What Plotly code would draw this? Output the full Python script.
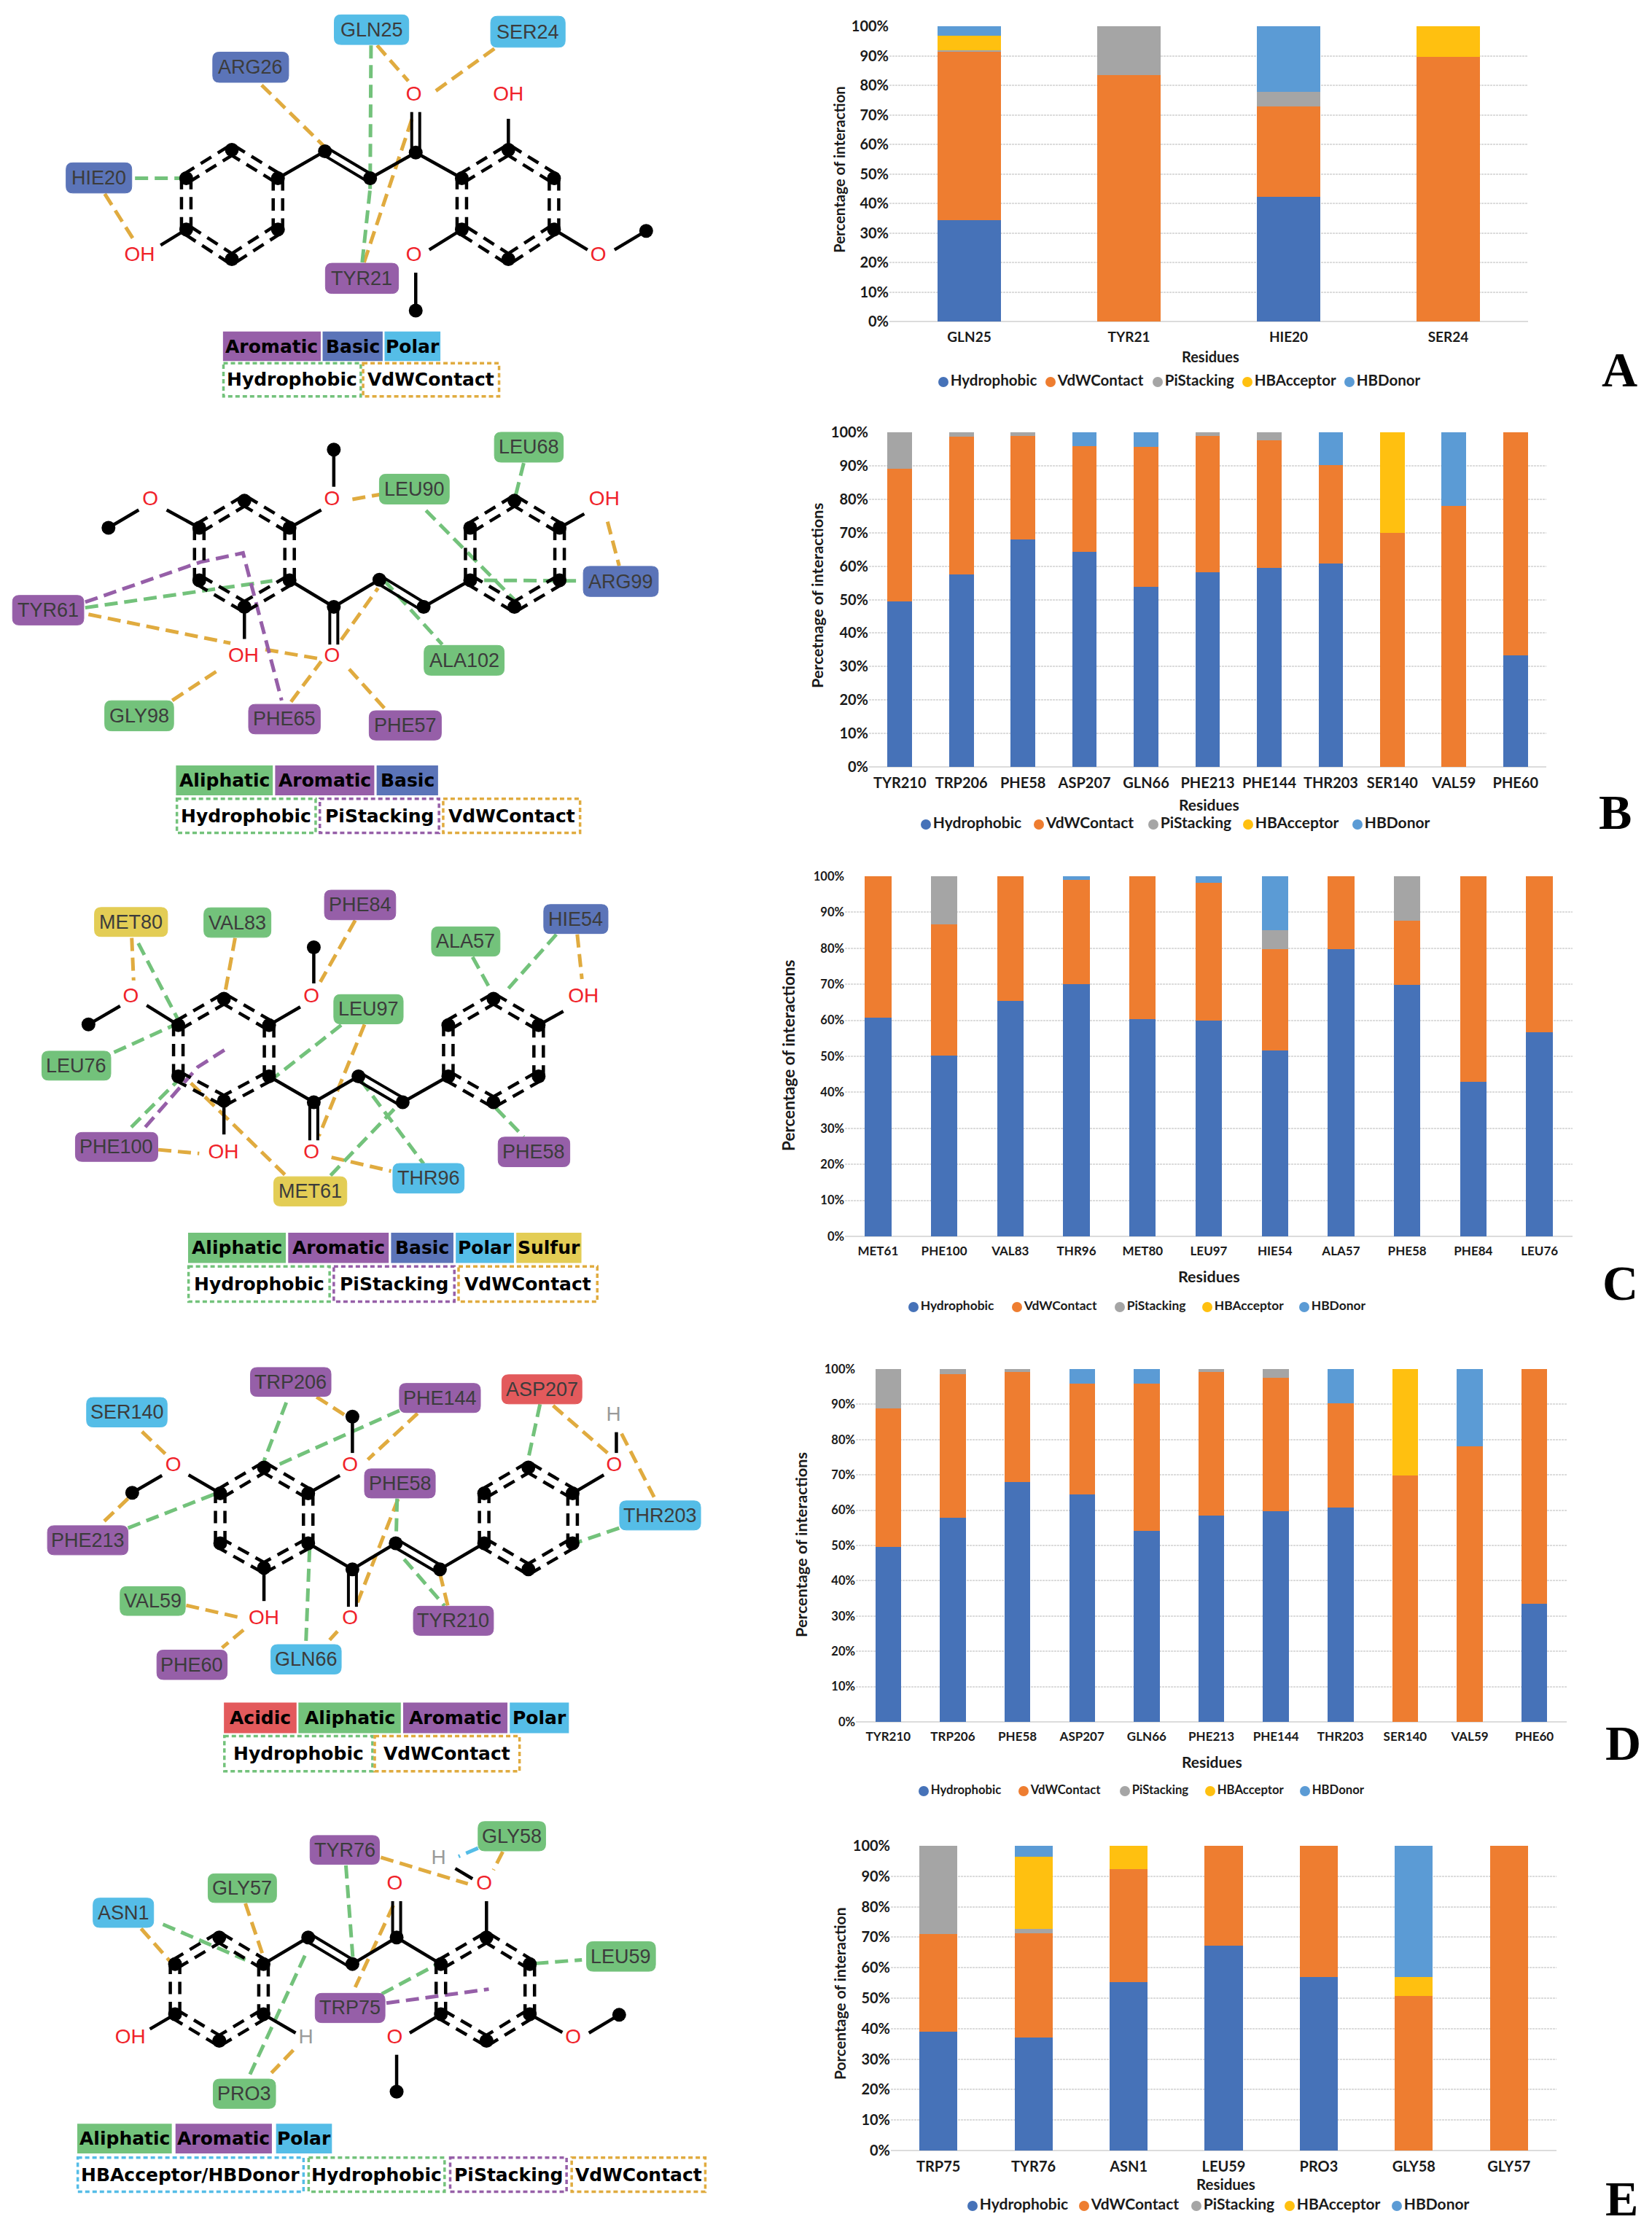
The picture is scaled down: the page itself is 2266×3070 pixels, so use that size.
import plotly.graph_objects as go

W, H = 2266, 3070
SERIES = ["Hydrophobic", "VdWContact", "PiStacking", "HBAcceptor", "HBDonor"]
SERIES_COLORS = ["#4672B8", "#EE7D30", "#A5A5A5", "#FFC010", "#5B9BD5"]

# ---------- bar chart values (percent) ----------
A_residues = ["GLN25", "TYR21", "HIE20", "SER24"]
A_hydrophobic = [34.2, 0, 42.3, 0]
A_vdw = [57.3, 83.4, 30.5, 89.6]
A_pi = [0.3, 16.6, 5.0, 0]
A_acceptor = [4.9, 0, 0, 10.4]
A_donor = [3.3, 0, 22.2, 0]

B_residues = ["TYR210", "TRP206", "PHE58", "ASP207", "GLN66", "PHE213", "PHE144", "THR203", "SER140", "VAL59", "PHE60"]
B_hydrophobic = [49.5, 57.6, 67.9, 64.2, 53.9, 58.2, 59.5, 60.7, 0, 0, 33.3]
B_vdw = [39.5, 41.0, 31.1, 31.7, 41.8, 40.8, 38.1, 29.5, 69.9, 78.1, 66.7]
B_pi = [11.0, 1.4, 1.0, 0, 0, 1.0, 2.4, 0, 0, 0, 0]
B_acceptor = [0, 0, 0, 0, 0, 0, 0, 0, 30.1, 0, 0]
B_donor = [0, 0, 0, 4.1, 4.3, 0, 0, 9.8, 0, 21.9, 0]

C_residues = ["MET61", "PHE100", "VAL83", "THR96", "MET80", "LEU97", "HIE54", "ALA57", "PHE58", "PHE84", "LEU76"]
C_hydrophobic = [60.7, 50.3, 65.4, 70.1, 60.4, 60.0, 51.7, 79.8, 69.8, 42.9, 56.6]
C_vdw = [39.3, 36.3, 34.6, 28.9, 39.6, 38.2, 28.0, 20.2, 17.8, 57.1, 43.4]
C_pi = [0, 13.4, 0, 0, 0, 0, 5.4, 0, 12.4, 0, 0]
C_acceptor = [0, 0, 0, 0, 0, 0, 0, 0, 0, 0, 0]
C_donor = [0, 0, 0, 1.0, 0, 1.8, 14.9, 0, 0, 0, 0]

D_residues = ["TYR210", "TRP206", "PHE58", "ASP207", "GLN66", "PHE213", "PHE144", "THR203", "SER140", "VAL59", "PHE60"]
D_hydrophobic = [49.6, 57.8, 68.0, 64.4, 54.1, 58.4, 59.7, 60.8, 0, 0, 33.4]
D_vdw = [39.3, 40.8, 31.1, 31.5, 41.7, 40.8, 37.9, 29.4, 69.9, 78.0, 66.6]
D_pi = [11.1, 1.4, 0.9, 0, 0, 0.8, 2.4, 0, 0, 0, 0]
D_acceptor = [0, 0, 0, 0, 0, 0, 0, 0, 30.1, 0, 0]
D_donor = [0, 0, 0, 4.1, 4.2, 0, 0, 9.8, 0, 22.0, 0]

E_residues = ["TRP75", "TYR76", "ASN1", "LEU59", "PRO3", "GLY58", "GLY57"]
E_hydrophobic = [38.9, 37.2, 55.2, 67.2, 56.9, 0, 0]
E_vdw = [32.2, 34.2, 37.2, 32.8, 43.1, 50.7, 100]
E_pi = [28.9, 1.4, 0, 0, 0, 0, 0]
E_acceptor = [0, 23.7, 7.6, 0, 0, 6.3, 0]
E_donor = [0, 3.5, 0, 0, 0, 43.0, 0]

# ---------- residue-class and contact colours ----------
CLASS_COLORS = {"Aromatic": "#965FA8", "Basic": "#5B74B8", "Polar": "#55BDE7",
                "Aliphatic": "#73C27B", "Sulfur": "#E3CD55", "Acidic": "#E35A5C"}
CONTACT_COLORS = {"Hydrophobic": "#73C27B", "VdWContact": "#E0AB3F", "PiStacking": "#965FA8",
                  "HBAcceptor/HBDonor": "#55BDE7"}

# ---------- interaction diagrams (atom places) ----------
MA = dict(
    crop=(0, 0, 1000, 580),
    rings=[[(400, 660), (498, 555), (597, 660), (597, 850), (498, 960), (400, 850)],
           [(992, 660), (1092, 555), (1190, 660), (1190, 850), (1092, 960), (992, 850)]],
    single=[[(597, 660), (698, 560)], [(795, 660), (893, 565)], [(893, 565), (992, 660)],
            [(1092, 555), (1092, 440)], [(992, 850), (922, 925)], [(893, 1010), (893, 1150)],
            [(1190, 850), (1262, 925)], [(1320, 925), (1388, 855)], [(400, 850), (345, 908)]],
    double=[[(698, 560), (795, 660)], [(893, 565), (893, 415)]],
    atoms=[(698, 560), (795, 660), (893, 565), (893, 1150), (1388, 855)],
    text=[("O", 889, 355), ("OH", 1092, 355), ("O", 889, 948), ("O", 1285, 948), ("OH", 300, 948)],
    residues=[("GLN25", "Polar", 718, 878, 55, 165), ("SER24", "Polar", 1054, 1214, 60, 175),
              ("ARG26", "Basic", 457, 620, 193, 305), ("HIE20", "Basic", 142, 283, 603, 715),
              ("TYR21", "Aromatic", 699, 856, 975, 1087)],
    vdw=[[(810, 168), (877, 300)], [(1062, 180), (935, 338)], [(562, 315), (695, 540)],
         [(225, 718), (285, 882)], [(782, 972), (887, 430)]],
    hydro=[[(797, 168), (795, 700)], [(778, 972), (795, 700)], [(290, 660), (392, 660)]],
    pi=[], hb=[],
    fill_row=(1228, 1337), fills=[("Aromatic", 479, 689), ("Basic", 693, 822), ("Polar", 826, 946)],
    dash_row=(1345, 1468), dashes=[("Hydrophobic", 480, 775), ("VdWContact", 780, 1072)],
)
MB = dict(
    crop=(0, 570, 1000, 600),
    rings=[[(428, 402), (525, 305), (622, 402), (622, 590), (525, 685), (428, 590)],
           [(1010, 402), (1105, 305), (1202, 402), (1202, 590), (1105, 685), (1010, 590)]],
    single=[[(622, 590), (717, 685)], [(717, 685), (815, 588)], [(910, 685), (1010, 590)],
            [(358, 338), (428, 402)], [(298, 338), (233, 402)], [(690, 338), (622, 402)],
            [(717, 255), (717, 122)], [(1255, 352), (1202, 402)], [(525, 685), (525, 800)]],
    double=[[(815, 588), (910, 685)], [(717, 685), (717, 820)]],
    atoms=[(815, 588), (910, 685), (717, 685), (233, 402), (717, 122)],
    text=[("O", 323, 303), ("O", 713, 303), ("OH", 1298, 303), ("OH", 523, 865), ("O", 713, 865)],
    residues=[("LEU68", "Aliphatic", 1062, 1210, 60, 167), ("LEU90", "Aliphatic", 815, 965, 210, 317),
              ("ARG99", "Basic", 1253, 1414, 540, 648), ("TYR61", "Aromatic", 27, 180, 644, 750),
              ("ALA102", "Aliphatic", 911, 1083, 823, 930), ("GLY98", "Aliphatic", 225, 373, 1021, 1129),
              ("PHE65", "Aromatic", 534, 688, 1034, 1140), ("PHE57", "Aromatic", 793, 948, 1057, 1162)],
    vdw=[[(757, 300), (815, 283)], [(1305, 380), (1330, 538)], [(190, 712), (495, 815)],
         [(570, 838), (690, 872)], [(370, 1020), (475, 905)], [(625, 1025), (690, 880)],
         [(750, 908), (828, 1052)], [(733, 803), (812, 618)]],
    hydro=[[(1125, 170), (1107, 290)], [(915, 340), (1105, 660)], [(1040, 590), (1250, 592)],
           [(183, 688), (585, 592)], [(825, 590), (950, 820)]],
    pi=[[(183, 668), (430, 525), (522, 492), (605, 1020)]], hb=[],
    fill_row=(1253, 1360), fills=[("Aliphatic", 378, 586), ("Aromatic", 591, 804), ("Basic", 809, 941)],
    dash_row=(1372, 1494), dashes=[("Hydrophobic", 380, 678), ("PiStacking", 687, 943), ("VdWContact", 952, 1246)],
)
MC = dict(
    crop=(0, 1170, 1000, 630),
    rings=[[(383, 587), (481, 497), (578, 587), (578, 762), (481, 845), (383, 762)],
           [(963, 587), (1060, 497), (1157, 587), (1157, 762), (1060, 850), (963, 762)]],
    single=[[(578, 762), (674, 850)], [(674, 850), (770, 762)], [(865, 850), (963, 762)],
            [(315, 520), (383, 587)], [(258, 522), (190, 585)], [(645, 525), (578, 587)],
            [(674, 445), (674, 322)], [(1210, 540), (1157, 587)], [(481, 845), (481, 960)]],
    double=[[(770, 762), (865, 850)], [(674, 850), (674, 980)]],
    atoms=[(770, 762), (865, 850), (674, 850), (190, 585), (674, 322)],
    text=[("O", 281, 491), ("O", 669, 491), ("OH", 1253, 491), ("OH", 480, 1023), ("O", 669, 1023)],
    residues=[("MET80", "Sulfur", 203, 360, 186, 285), ("VAL83", "Aliphatic", 438, 582, 187, 288),
              ("PHE84", "Aromatic", 697, 850, 127, 228), ("ALA57", "Aliphatic", 927, 1074, 252, 352),
              ("HIE54", "Basic", 1168, 1306, 176, 275), ("LEU97", "Aliphatic", 717, 866, 483, 583),
              ("LEU76", "Aliphatic", 90, 238, 676, 775), ("PHE100", "Aromatic", 162, 339, 953, 1052),
              ("MET61", "Sulfur", 588, 745, 1104, 1204), ("THR96", "Polar", 844, 997, 1059, 1160),
              ("PHE58", "Aromatic", 1070, 1224, 969, 1070)],
    vdw=[[(283, 290), (287, 435)], [(505, 290), (483, 480)], [(763, 230), (688, 440)],
         [(1240, 278), (1250, 430)], [(783, 585), (685, 965)], [(340, 1012), (428, 1025)],
         [(410, 785), (615, 1102)], [(712, 1038), (840, 1085)]],
    hydro=[[(297, 308), (383, 570)], [(245, 680), (370, 590)], [(1015, 355), (1055, 470)],
           [(1195, 278), (1085, 475)], [(733, 587), (590, 765)], [(282, 935), (383, 775)],
           [(710, 1100), (855, 860)], [(775, 775), (910, 1060)], [(1065, 870), (1125, 968)]],
    pi=[[(312, 935), (425, 730), (482, 672)]], hb=[],
    fill_row=(1295, 1398), fills=[("Aliphatic", 404, 614), ("Aromatic", 619, 835), ("Basic", 840, 974),
                                  ("Polar", 979, 1104), ("Sulfur", 1109, 1249)],
    dash_row=(1410, 1530), dashes=[("Hydrophobic", 405, 708), ("PiStacking", 717, 976), ("VdWContact", 985, 1283)],
)
MD = dict(
    crop=(0, 1830, 1000, 620),
    rings=[[(473, 552), (567, 462), (662, 552), (662, 725), (567, 810), (473, 725)],
           [(1040, 552), (1135, 462), (1230, 552), (1230, 725), (1135, 815), (1040, 725)]],
    single=[[(662, 725), (757, 815)], [(757, 815), (850, 725)], [(945, 815), (1040, 725)],
            [(405, 488), (473, 552)], [(348, 490), (284, 550)], [(730, 490), (662, 552)],
            [(757, 412), (757, 286)], [(1297, 488), (1230, 552)], [(1324, 340), (1324, 412)],
            [(567, 810), (567, 925)]],
    double=[[(850, 725), (945, 815)], [(757, 815), (757, 945)]],
    atoms=[(850, 725), (945, 815), (757, 815), (284, 550), (757, 286)],
    text=[("O", 372, 458), ("O", 752, 458), ("O", 1319, 458), ("H", 1318, 282), ("OH", 567, 988), ("O", 752, 988)],
    residues=[("SER140", "Polar", 186, 359, 220, 322), ("TRP206", "Aromatic", 538, 711, 116, 216),
              ("PHE144", "Aromatic", 858, 1032, 171, 272), ("ASP207", "Acidic", 1078, 1250, 141, 242),
              ("PHE58", "Aromatic", 783, 935, 467, 568), ("THR203", "Polar", 1331, 1505, 578, 679),
              ("PHE213", "Aromatic", 102, 275, 664, 765), ("VAL59", "Aliphatic", 258, 398, 875, 975),
              ("TYR210", "Aromatic", 888, 1060, 943, 1044), ("PHE60", "Aromatic", 337, 488, 1095, 1197),
              ("GLN66", "Polar", 582, 733, 1076, 1178)],
    vdw=[[(305, 338), (355, 415)], [(680, 218), (745, 285)], [(897, 275), (790, 435)],
         [(1188, 248), (1305, 412)], [(1335, 345), (1405, 565)], [(275, 570), (215, 662)],
         [(400, 940), (515, 982)], [(523, 1025), (477, 1087)], [(725, 1030), (708, 1060)],
         [(855, 572), (768, 930)], [(945, 830), (962, 942)]],
    hydro=[[(615, 237), (567, 440)], [(858, 265), (585, 462)], [(1160, 243), (1133, 445)],
           [(1330, 672), (1240, 722)], [(275, 672), (460, 555)], [(853, 570), (851, 700)],
           [(665, 745), (657, 1075)], [(868, 780), (955, 942)]],
    pi=[], hb=[],
    fill_row=(1277, 1383), fills=[("Acidic", 481, 637), ("Aliphatic", 641, 861), ("Aromatic", 866, 1090), ("Polar", 1095, 1222)],
    dash_row=(1393, 1515), dashes=[("Hydrophobic", 482, 800), ("VdWContact", 805, 1116)],
)
ME = dict(
    crop=(0, 2470, 1000, 600),
    rings=[[(376, 585), (471, 490), (566, 585), (566, 765), (471, 860), (376, 765)],
           [(947, 585), (1045, 490), (1138, 585), (1138, 765), (1045, 860), (947, 765)]],
    single=[[(566, 585), (662, 490)], [(757, 585), (852, 490)], [(852, 490), (947, 585)],
            [(1045, 360), (1045, 490)], [(978, 243), (1015, 280)], [(376, 765), (322, 818)],
            [(566, 765), (635, 832)], [(947, 765), (880, 832)], [(852, 910), (852, 1042)],
            [(1138, 765), (1208, 830)], [(1265, 832), (1330, 767)]],
    double=[[(662, 490), (757, 585)], [(852, 490), (852, 360)]],
    atoms=[(662, 490), (757, 585), (852, 490), (852, 1042), (1330, 767)],
    text=[("O", 848, 300), ("O", 1040, 300), ("H", 942, 210), ("OH", 280, 852), ("H", 657, 852),
          ("O", 848, 852), ("O", 1231, 852)],
    residues=[("GLY58", "Aliphatic", 1027, 1172, 75, 180), ("TYR76", "Aromatic", 666, 815, 125, 228),
              ("GLY57", "Aliphatic", 447, 594, 262, 365), ("ASN1", "Polar", 200, 330, 349, 454),
              ("LEU59", "Aliphatic", 1260, 1408, 505, 611), ("TRP75", "Aromatic", 677, 827, 690, 795),
              ("PRO3", "Aliphatic", 458, 592, 997, 1102)],
    vdw=[[(818, 203), (1005, 298)], [(1080, 183), (1060, 248)], [(527, 368), (565, 555)],
         [(303, 458), (365, 575)], [(845, 375), (763, 668)], [(630, 893), (583, 975)]],
    hydro=[[(743, 232), (758, 565)], [(350, 443), (527, 570)], [(1150, 583), (1250, 570)],
           [(820, 692), (935, 590)], [(655, 555), (537, 980)]],
    pi=[[(830, 725), (1050, 675)]], hb=[[(1027, 170), (985, 200)]],
    fill_row=(1157, 1263), fills=[("Aliphatic", 166, 369), ("Aromatic", 377, 584), ("Polar", 593, 713)],
    dash_row=(1278, 1400), dashes=[("HBAcceptor/HBDonor", 167, 652), ("Hydrophobic", 663, 955),
                                   ("PiStacking", 967, 1217), ("VdWContact", 1228, 1515)],
)
MOLECULES = [MA, MB, MC, MD, ME]

# ---------- chart layout (pixels on the page) ----------
PANELS = [
    dict(name="A", cats=A_residues, vals=[A_hydrophobic, A_vdw, A_pi, A_acceptor, A_donor],
         box=(1220, 2096, 36, 441), ytitle="Percentage of interaction", ytsize=20.4, tick=20, xtick=19, title=20, legend=20.5,
         legend_y=524, legend_x=[1294, 1441, 1588, 1711, 1851], title_xy=(1660, 489), ytitle_xy=(1151, 233),
         letter=(2221, 507)),
    dict(name="B", cats=B_residues, vals=[B_hydrophobic, B_vdw, B_pi, B_acceptor, B_donor],
         box=(1192, 2121, 593, 1052), ytitle="Percetnage of interactions", ytsize=21.8, tick=20, xtick=20, title=21, legend=21,
         legend_y=1131, legend_x=[1270, 1425, 1582, 1712, 1862], title_xy=(1658, 1103), ytitle_xy=(1120, 817),
         letter=(2215, 1114)),
    dict(name="C", cats=C_residues, vals=[C_hydrophobic, C_vdw, C_pi, C_acceptor, C_donor],
         box=(1159, 2157, 1202, 1696), ytitle="Percentage of interactions", ytsize=22.5, tick=16.5, xtick=17, title=21.5, legend=17.4,
         legend_y=1793, legend_x=[1253, 1395, 1536, 1656, 1789], title_xy=(1658, 1751), ytitle_xy=(1081, 1448),
         letter=(2222, 1760)),
    dict(name="D", cats=D_residues, vals=[D_hydrophobic, D_vdw, D_pi, D_acceptor, D_donor],
         box=(1174, 2149, 1878, 2362), ytitle="Percentage of interactions", ytsize=21.8, tick=16.5, xtick=17, title=21, legend=16.7,
         legend_y=2457, legend_x=[1267, 1404, 1543, 1660, 1790], title_xy=(1662, 2416), ytitle_xy=(1098, 2119),
         letter=(2226, 2391)),
    dict(name="E", cats=E_residues, vals=[E_hydrophobic, E_vdw, E_pi, E_acceptor, E_donor],
         box=(1222, 2135, 2532, 2950), ytitle="Porcentage of interaction", ytsize=21, tick=20, xtick=20, title=20.5, legend=21,
         legend_y=3026, legend_x=[1334, 1487, 1641, 1769, 1916], title_xy=(1681, 2996), ytitle_xy=(1151, 2735),
         letter=(2224, 3016)),
]

TEXT_COLOR = "#1a1a1a"
LATO = "Lato"
fig = go.Figure()
annotations = []
shapes = []
layout_axes = {}


def frame(crop):
    ox, oy, w, h = crop
    fx, fy = 1566 / w, 1566 / h
    return lambda p: (ox + p[0] / fx, oy + p[1] / fy)


def collect(paths):
    xs, ys = [], []
    for path in paths:
        for x, y in path:
            xs.append(x)
            ys.append(y)
        xs.append(None)
        ys.append(None)
    return xs, ys


def parallel(seg, conv, gap):
    (x0, y0), (x1, y1) = conv(seg[0]), conv(seg[1])
    dx, dy = x1 - x0, y1 - y0
    ln = (dx * dx + dy * dy) ** 0.5
    nx, ny = -dy / ln * gap, dx / ln * gap
    return [[(x0 + nx, y0 + ny), (x1 + nx, y1 + ny)], [(x0 - nx, y0 - ny), (x1 - nx, y1 - ny)]]


def rounded(x0, x1, y0, y1, r=9):
    return (f"M{x0 + r},{y0} L{x1 - r},{y0} Q{x1},{y0} {x1},{y0 + r} L{x1},{y1 - r} Q{x1},{y1} {x1 - r},{y1} "
            f"L{x0 + r},{y1} Q{x0},{y1} {x0},{y1 - r} L{x0},{y0 + r} Q{x0},{y0} {x0 + r},{y0} Z")


# ---------- stacked bars ----------
for i, p in enumerate(PANELS, start=1):
    l, r, t, b = p["box"]
    xa, ya = f"x{i}", f"y{i}"
    layout_axes[f"xaxis{i}"] = dict(
        domain=[l / W, r / W], anchor=ya, type="category", categoryorder="array", categoryarray=p["cats"],
        tickfont=dict(family=LATO, size=p["xtick"], color=TEXT_COLOR, weight=700), ticks="",
        showline=False, showgrid=False, ticklabelstandoff=8, fixedrange=True, automargin=False)
    layout_axes[f"yaxis{i}"] = dict(
        domain=[1 - b / H, 1 - t / H], anchor=xa, range=[0, 100], tick0=0, dtick=10, ticksuffix="%",
        tickfont=dict(family=LATO, size=p["tick"], color=TEXT_COLOR, weight=700), ticks="",
        showline=False, showgrid=True, gridcolor="#dcdcdc", gridwidth=2, griddash="3px,1px", zeroline=True,
        zerolinecolor="#dcdcdc", zerolinewidth=2, fixedrange=True, automargin=False)
    for name, color, vals in zip(SERIES, SERIES_COLORS, p["vals"]):
        fig.add_trace(go.Bar(x=p["cats"], y=vals, name=name, xaxis=xa, yaxis=ya, marker=dict(color=color, line_width=0),
                             width=0.4, showlegend=False))

# ---------- page-wide pixel axes for diagrams and side texts ----------
layout_axes["xaxis6"] = dict(domain=[0, 1], range=[0, W], visible=False, anchor="y6", fixedrange=True, automargin=False)
layout_axes["yaxis6"] = dict(domain=[0, 1], range=[H, 0], visible=False, anchor="x6", fixedrange=True, automargin=False)


def overlay(xs, ys, **kw):
    fig.add_trace(go.Scatter(x=xs, y=ys, xaxis="x6", yaxis="y6", showlegend=False, hoverinfo="skip", **kw))


single_paths, double_paths, arom_paths, atom_pts = [], [], [], []
contact_paths = {"VdWContact": [], "Hydrophobic": [], "PiStacking": [], "HBAcceptor/HBDonor": []}
text_items = {"#F0222A": [], "#9a9a9a": []}

for m in MOLECULES:
    conv = frame(m["crop"])
    for ring in m["rings"]:
        atom_pts += [conv(q) for q in ring]
        for k in range(6):
            arom_paths += parallel((ring[k], ring[(k + 1) % 6]), conv, 6.5)
    for seg in m["single"]:
        single_paths.append([conv(q) for q in seg])
    for seg in m["double"]:
        double_paths += parallel(seg, conv, 5.5)
    atom_pts += [conv(q) for q in m["atoms"]]
    for key, name in (("vdw", "VdWContact"), ("hydro", "Hydrophobic"), ("pi", "PiStacking"), ("hb", "HBAcceptor/HBDonor")):
        for path in m[key]:
            contact_paths[name].append([conv(q) for q in path])
    for label, x, y in m["text"]:
        text_items["#9a9a9a" if label == "H" else "#F0222A"].append((label, *conv((x, y))))

    for label, cls, x0, x1, y0, y1 in m["residues"]:
        a, c = conv((x0, y0)), conv((x1, y1))
        shapes.append(dict(type="path", path=rounded(a[0], c[0], a[1], c[1]), xref="x6", yref="y6",
                           fillcolor=CLASS_COLORS[cls], line=dict(color=CLASS_COLORS[cls], width=1), layer="above"))
        annotations.append(dict(text=label, x=(a[0] + c[0]) / 2, y=(a[1] + c[1]) / 2, xref="x6", yref="y6",
                                showarrow=False, font=dict(family="Liberation Sans", size=27, color="#3c3c3c")))
    ya0, ya1 = m["fill_row"]
    for label, x0, x1 in m["fills"]:
        a, c = conv((x0, ya0)), conv((x1, ya1))
        shapes.append(dict(type="rect", x0=a[0], x1=c[0], y0=a[1], y1=c[1], xref="x6", yref="y6",
                           fillcolor=CLASS_COLORS[label], line_width=0, layer="above"))
        annotations.append(dict(text=label, x=(a[0] + c[0]) / 2, y=(a[1] + c[1]) / 2, xref="x6", yref="y6",
                                showarrow=False, font=dict(family="DejaVu Sans", size=25, color="#000000", weight=700)))
    ya0, ya1 = m["dash_row"]
    for label, x0, x1 in m["dashes"]:
        a, c = conv((x0, ya0)), conv((x1, ya1))
        shapes.append(dict(type="rect", x0=a[0], x1=c[0], y0=a[1], y1=c[1], xref="x6", yref="y6",
                           line=dict(color=CONTACT_COLORS[label], width=3.5, dash="6px,4px"), layer="above"))
        annotations.append(dict(text=label, x=(a[0] + c[0]) / 2, y=(a[1] + c[1]) / 2, xref="x6", yref="y6",
                                showarrow=False, font=dict(family="DejaVu Sans", size=25, color="#000000", weight=700)))

for name in ["VdWContact", "Hydrophobic", "PiStacking", "HBAcceptor/HBDonor"]:
    x, y = collect(contact_paths[name])
    overlay(x, y, mode="lines", line=dict(color=CONTACT_COLORS[name], width=5, dash="18px,9px"))
x, y = collect(arom_paths)
overlay(x, y, mode="lines", line=dict(color="#000000", width=4.5, dash="17px,10.5px"))
x, y = collect(single_paths)
overlay(x, y, mode="lines", line=dict(color="#000000", width=4.5))
x, y = collect(double_paths)
overlay(x, y, mode="lines", line=dict(color="#000000", width=4))
overlay([q[0] for q in atom_pts], [q[1] for q in atom_pts], mode="markers", marker=dict(color="#000000", size=19))
for color, items in text_items.items():
    overlay([q[1] for q in items], [q[2] for q in items], mode="text", text=[q[0] for q in items],
            textfont=dict(family="Liberation Sans", size=28, color=color), textposition="middle center")

# ---------- chart titles, legends, panel letters ----------
for p in PANELS:
    overlay(p["legend_x"], [p["legend_y"]] * 5, mode="markers+text", text=SERIES, textposition="middle right",
            marker=dict(color=SERIES_COLORS, size=14),
            textfont=dict(family=LATO, size=p["legend"], color=TEXT_COLOR, weight=700))
    annotations.append(dict(text="Residues", x=p["title_xy"][0], y=p["title_xy"][1], xref="x6", yref="y6", showarrow=False,
                            font=dict(family=LATO, size=p["title"], color=TEXT_COLOR, weight=700)))
    annotations.append(dict(text=p["ytitle"], x=p["ytitle_xy"][0], y=p["ytitle_xy"][1], xref="x6", yref="y6", textangle=-90,
                            showarrow=False, font=dict(family=LATO, size=p["ytsize"], color=TEXT_COLOR, weight=700)))
    annotations.append(dict(text=p["name"], x=p["letter"][0], y=p["letter"][1], xref="x6", yref="y6", showarrow=False,
                            font=dict(family="Liberation Serif", size=68, color="#000000", weight=700)))

fig.update_layout(template="none", width=W, height=H, margin=dict(l=0, r=0, t=0, b=0), barmode="stack",
                  paper_bgcolor="white", plot_bgcolor="rgba(0,0,0,0)", showlegend=False, shapes=shapes,
                  annotations=annotations, **layout_axes)
fig.write_html("out.html", config=dict(displayModeBar=False),
               post_script="document.body.style.margin='0';document.documentElement.style.overflow='hidden';")
